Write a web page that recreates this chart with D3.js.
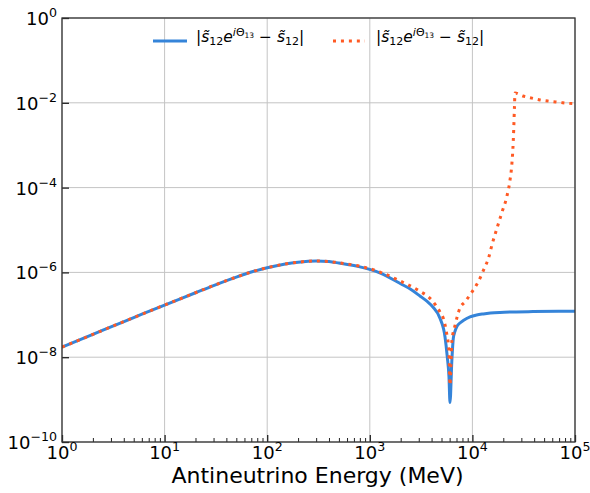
<!DOCTYPE html>
<html>
<head>
<meta charset="utf-8">
<script src="https://cdn.jsdelivr.net/npm/d3@7"></script>
<style>
  html, body { margin: 0; padding: 0; background: #fff; }
  svg { display: block; font-family: "DejaVu Sans", sans-serif; }
</style>
</head>
<body>
<svg id="chart" width="590" height="493"></svg>
<script>
// ---------------- data ----------------
const xTickValues = [1, 10, 100, 1000, 10000, 100000];
const xTickExponents = ["0", "1", "2", "3", "4", "5"];
const yTickValues = [1, 1e-2, 1e-4, 1e-6, 1e-8, 1e-10];
const yTickExponents = ["0", "\u22122", "\u22124", "\u22126", "\u22128", "\u221210"];

// solid series (blue)
const energyBlue = [1, 2, 3, 5, 10, 20, 30, 50, 70, 100, 150, 200, 300, 400, 500, 800, 1250, 2000, 2500, 3100, 3600, 4100, 4830, 5410, 5690, 5910, 6050, 6300, 6515, 6750, 7030, 7570, 8150, 9480, 11000, 12770, 15000, 18600, 25000, 39000, 100000];
const valueBlue  = [1.74e-8, 3.45e-8, 5.2e-8, 8.6e-8, 1.7e-7, 3.31e-7, 4.9e-7, 7.76e-7, 1.02e-6, 1.29e-6, 1.58e-6, 1.74e-6, 1.86e-6, 1.8e-6, 1.66e-6, 1.35e-6, 9.8e-7, 5.4e-7, 4.0e-7, 2.75e-7, 2.1e-7, 1.55e-7, 8.3e-8, 3.0e-8, 1.02e-8, 3.5e-9, 8.5e-10, 8.0e-9, 2.8e-8, 4.0e-8, 5.2e-8, 6.4e-8, 7.3e-8, 8.9e-8, 9.9e-8, 1.05e-7, 1.1e-7, 1.14e-7, 1.17e-7, 1.19e-7, 1.21e-7];

// dotted series (orange)
const energyOrange = [1, 2, 3, 5, 10, 20, 30, 50, 70, 100, 150, 200, 300, 400, 500, 800, 1257, 1968, 2950, 4000, 4830, 5200, 5650, 5900, 6050, 6300, 6800, 7570, 8450, 9480, 11350, 13250, 14300, 15600, 17400, 19300, 21600, 23100, 24200, 24800, 25300, 25700, 26000, 31000, 38000, 45600, 54400, 65000, 76000, 100000];
const valueOrange  = [1.74e-8, 3.45e-8, 5.2e-8, 8.6e-8, 1.7e-7, 3.31e-7, 4.9e-7, 7.76e-7, 1.02e-6, 1.29e-6, 1.58e-6, 1.74e-6, 1.86e-6, 1.81e-6, 1.68e-6, 1.4e-6, 1.02e-6, 6.3e-7, 3.8e-7, 2.24e-7, 1.17e-7, 8.3e-8, 3.3e-8, 1.48e-8, 2.2e-9, 2.3e-8, 5.8e-8, 1.45e-7, 2.0e-7, 2.95e-7, 5.9e-7, 1.35e-6, 2.1e-6, 4.7e-6, 1.12e-5, 2.5e-5, 6.0e-5, 1.35e-4, 3.4e-4, 8.1e-4, 2.5e-3, 8.0e-3, 1.7e-2, 1.45e-2, 1.29e-2, 1.17e-2, 1.10e-2, 1.05e-2, 1.0e-2, 9.5e-3];

// ---------------- layout ----------------
const svg = d3.select("#chart");
const L = 62, R = 575, T = 18, B = 442;
const x = d3.scaleLog().domain([1, 1e5]).range([L, R]);
const y = d3.scaleLog().domain([1e-10, 1]).range([B, T]);

const blue = "#3584d9", orange = "#ff5a24";

// grid
const g = svg.append("g");
g.selectAll("line.gx").data(xTickValues).enter().append("line")
  .attr("x1", d => x(d)).attr("x2", d => x(d)).attr("y1", T).attr("y2", B)
  .attr("stroke", "#c4c4c4").attr("stroke-width", 1);
g.selectAll("line.gy").data(yTickValues).enter().append("line")
  .attr("x1", L).attr("x2", R).attr("y1", d => y(d)).attr("y2", d => y(d))
  .attr("stroke", "#c4c4c4").attr("stroke-width", 1);

// lines
svg.append("clipPath").attr("id", "clip").append("rect")
  .attr("x", L).attr("y", T).attr("width", R - L).attr("height", B - T);

const line = d3.line().x(d => x(d[0])).y(d => y(d[1])).curve(d3.curveMonotoneX);
const blueData = energyBlue.map((e, i) => [e, valueBlue[i]]);
const orangeData = energyOrange.map((e, i) => [e, valueOrange[i]]);

svg.append("path").datum(blueData).attr("d", line)
  .attr("fill", "none").attr("stroke", blue).attr("stroke-width", 3)
  .attr("clip-path", "url(#clip)");
svg.append("path").datum(orangeData).attr("d", line)
  .attr("fill", "none").attr("stroke", orange).attr("stroke-width", 3)
  .attr("stroke-dasharray", "3,4.95")
  .attr("clip-path", "url(#clip)");

// axes with inward ticks
const xAxisMajor = d3.axisBottom(x).tickValues(xTickValues).tickSize(-7).tickFormat("");
const minorX = [];
for (let p = 0; p < 5; p++) for (let k = 2; k <= 9; k++) minorX.push(k * Math.pow(10, p));
const xAxisMinor = d3.axisBottom(x).tickValues(minorX).tickSize(-4).tickFormat("");
const yAxisMajor = d3.axisLeft(y).tickValues(yTickValues).tickSize(-7).tickFormat("");

const ax1 = svg.append("g").attr("transform", `translate(0,${B})`).call(xAxisMajor);
const ax2 = svg.append("g").attr("transform", `translate(0,${B})`).call(xAxisMinor);
const ay = svg.append("g").attr("transform", `translate(${L},0)`).call(yAxisMajor);
[ax1, ax2, ay].forEach(a => { a.select(".domain").remove(); });
ax1.selectAll("line").attr("stroke", "#222").attr("stroke-width", 1.3);
ax2.selectAll("line").attr("stroke", "#222").attr("stroke-width", 1);
ay.selectAll("line").attr("stroke", "#222").attr("stroke-width", 1.3);

// frame
svg.append("rect").attr("x", L).attr("y", T).attr("width", R - L).attr("height", B - T)
  .attr("fill", "none").attr("stroke", "#333").attr("stroke-width", 1.3);

// tick labels
function powLabel(sel, exp) {
  sel.append("tspan").text("10");
  sel.append("tspan").attr("dy", -8).attr("font-size", 12.6).text(exp);
}
xTickValues.forEach((v, i) => {
  const t = svg.append("text").attr("x", x(v)).attr("y", 459)
    .attr("text-anchor", "middle").attr("font-size", 18).attr("fill", "#000");
  powLabel(t, xTickExponents[i]);
});
yTickValues.forEach((v, i) => {
  const t = svg.append("text").attr("x", 57).attr("y", y(v) + 7)
    .attr("text-anchor", "end").attr("font-size", 18).attr("fill", "#000");
  powLabel(t, yTickExponents[i]);
});

// axis title
svg.append("text").attr("x", 317.5).attr("y", 483)
  .attr("text-anchor", "middle").attr("font-size", 22).attr("fill", "#000")
  .text("Antineutrino Energy (MeV)");

// legend
const legendLabels = ["|", "s\u0303", "12", "e", "i", "\u0398", "13", " \u2212 ", "s\u0303", "12", "|"];
function legendText(xPos) {
  const t = svg.append("text").attr("x", xPos).attr("y", 42).attr("font-size", 15.5).attr("fill", "#000");
  t.append("tspan").text(legendLabels[0]);
  t.append("tspan").attr("font-style", "italic").text(legendLabels[1]);
  t.append("tspan").attr("dy", 3).attr("font-size", 11).text(legendLabels[2]);
  t.append("tspan").attr("dy", -3).attr("font-style", "italic").text(legendLabels[3]);
  t.append("tspan").attr("dy", -6).attr("font-size", 11).attr("font-style", "italic").text(legendLabels[4]);
  t.append("tspan").attr("font-size", 11).text(legendLabels[5]);
  t.append("tspan").attr("dy", 2).attr("font-size", 7.5).text(legendLabels[6]);
  t.append("tspan").attr("dy", 4).text(legendLabels[7]);
  t.append("tspan").attr("font-style", "italic").text(legendLabels[8]);
  t.append("tspan").attr("dy", 3).attr("font-size", 11).text(legendLabels[9]);
  t.append("tspan").attr("dy", -3).text(legendLabels[10]);
}
svg.append("line").attr("x1", 153).attr("x2", 187).attr("y1", 41).attr("y2", 41)
  .attr("stroke", blue).attr("stroke-width", 3);
legendText(196);
svg.append("line").attr("x1", 333).attr("x2", 365).attr("y1", 41).attr("y2", 41)
  .attr("stroke", orange).attr("stroke-width", 3).attr("stroke-dasharray", "3,4.95");
legendText(376);
</script>
</body>
</html>
